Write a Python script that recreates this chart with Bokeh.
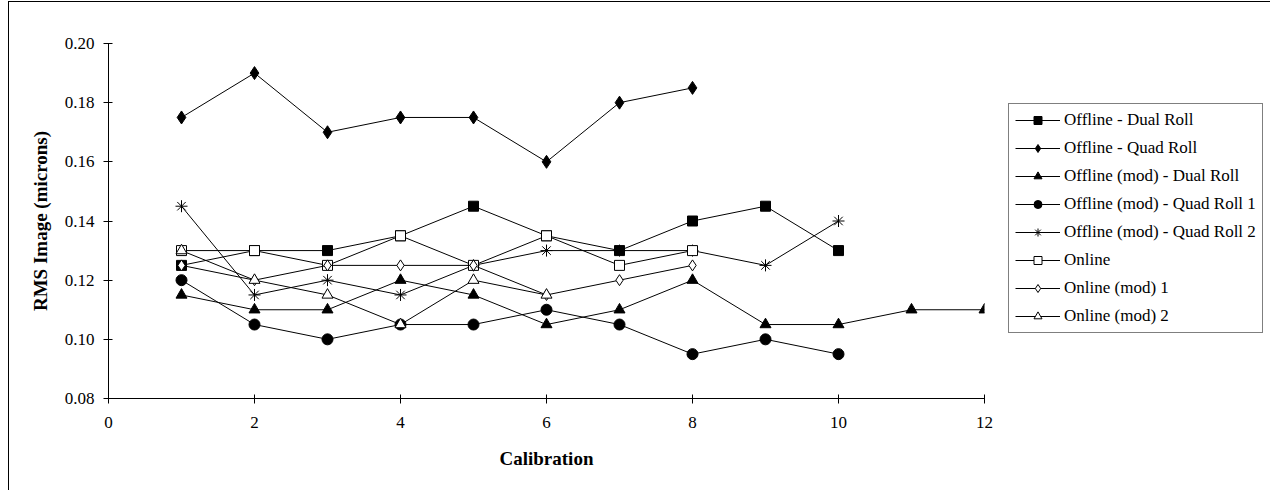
from bokeh.plotting import figure
from bokeh.models import Range1d, Legend, LegendItem, FixedTicker, NumeralTickFormatter
from bokeh.embed import file_html
from bokeh.resources import INLINE

# ---- data ----
series_names = [
    "Offline - Dual Roll",
    "Offline - Quad Roll",
    "Offline (mod) - Dual Roll",
    "Offline (mod) - Quad Roll 1",
    "Offline (mod) - Quad Roll 2",
    "Online",
    "Online (mod) 1",
    "Online (mod) 2",
]
offline_dual = [0.125, 0.13, 0.13, 0.135, 0.145, 0.135, 0.13, 0.14, 0.145, 0.13]
offline_quad = [0.175, 0.19, 0.17, 0.175, 0.175, 0.16, 0.18, 0.185]
offline_mod_dual = [0.115, 0.11, 0.11, 0.12, 0.115, 0.105, 0.11, 0.12, 0.105, 0.105, 0.11, 0.11]
offline_mod_quad1 = [0.12, 0.105, 0.10, 0.105, 0.105, 0.11, 0.105, 0.095, 0.10, 0.095]
offline_mod_quad2 = [0.145, 0.115, 0.12, 0.115, 0.125, 0.13, 0.13, 0.13, 0.125, 0.14]
online = [0.13, 0.13, 0.125, 0.135, 0.125, 0.135, 0.125, 0.13]
online_mod1 = [0.125, 0.12, 0.125, 0.125, 0.125, 0.115, 0.12, 0.125]
online_mod2 = [0.13, 0.12, 0.115, 0.105, 0.12, 0.115]
x_ticks = [0, 2, 4, 6, 8, 10, 12]
y_ticks = [0.08, 0.10, 0.12, 0.14, 0.16, 0.18, 0.20]

all_series = [offline_dual, offline_quad, offline_mod_dual, offline_mod_quad1,
              offline_mod_quad2, online, online_mod1, online_mod2]

# marker styles: (marker, size, fill)
styles = [
    ("square", 10, "black"),
    ("diamond", 13, "black"),
    ("triangle", 11, "black"),
    ("circle", 11, "black"),
    ("asterisk", 12, None),
    ("square", 10, "white"),
    ("diamond", 11, "white"),
    ("triangle", 11, "white"),
]

FONT = "Liberation Serif"

p = figure(frame_width=876, frame_height=355, output_backend="svg", toolbar_location=None,
           x_range=Range1d(0, 12), y_range=Range1d(0.08, 0.20),
           min_border_left=99, min_border_top=41, min_border_bottom=92, min_border_right=283)
p.outline_line_color = None
p.xgrid.visible = False
p.ygrid.visible = False
p.styles = {"margin-left": "8px", "margin-top": "1px",
            "border-left": "1px solid black", "border-top": "1px solid black",
            "border-right": "1px solid black"}

items = []
for name, ys, (mk, sz, fill) in zip(series_names, all_series, styles):
    xs = list(range(1, len(ys) + 1))
    r1 = p.line(xs, ys, line_color="black", line_width=1)
    r2 = p.scatter(xs, ys, marker=mk, size=sz, line_color="black", line_width=1, fill_color=fill)
    items.append(LegendItem(label=name, renderers=[r1, r2]))

legend = Legend(items=items, location=(24, 65))
legend.border_line_color = "black"
legend.border_line_width = 1
legend.background_fill_color = "white"
legend.label_text_font = FONT
legend.label_text_font_size = "17px"
legend.label_text_color = "black"
legend.glyph_width = 45
legend.glyph_height = 20
legend.label_height = 20
legend.label_standoff = 4
legend.spacing = 8
legend.padding = 6
legend.margin = 0
p.add_layout(legend, "right")

for ax in (p.xaxis, p.yaxis):
    ax.axis_line_color = "black"
    ax.major_tick_line_color = "black"
    ax.minor_tick_line_color = None
    ax.major_tick_in = 4
    ax.major_tick_out = 5
    ax.major_label_text_font = FONT
    ax.major_label_text_font_size = "17px"
    ax.major_label_text_color = "black"
    ax.axis_label_text_font = FONT
    ax.axis_label_text_font_size = "19px"
    ax.axis_label_text_font_style = "bold"
    ax.axis_label_text_color = "black"

p.xaxis.ticker = FixedTicker(ticks=x_ticks)
p.yaxis.ticker = FixedTicker(ticks=y_ticks)
p.yaxis.formatter = NumeralTickFormatter(format="0.00")
p.xaxis.axis_label = "Calibration"
p.yaxis.axis_label = "RMS Image (microns)"
p.xaxis.major_label_standoff = 13
p.yaxis.major_label_standoff = 9
p.xaxis.axis_label_standoff = 17
p.yaxis.axis_label_standoff = 11

open("out.html", "w").write(file_html(p, INLINE))
